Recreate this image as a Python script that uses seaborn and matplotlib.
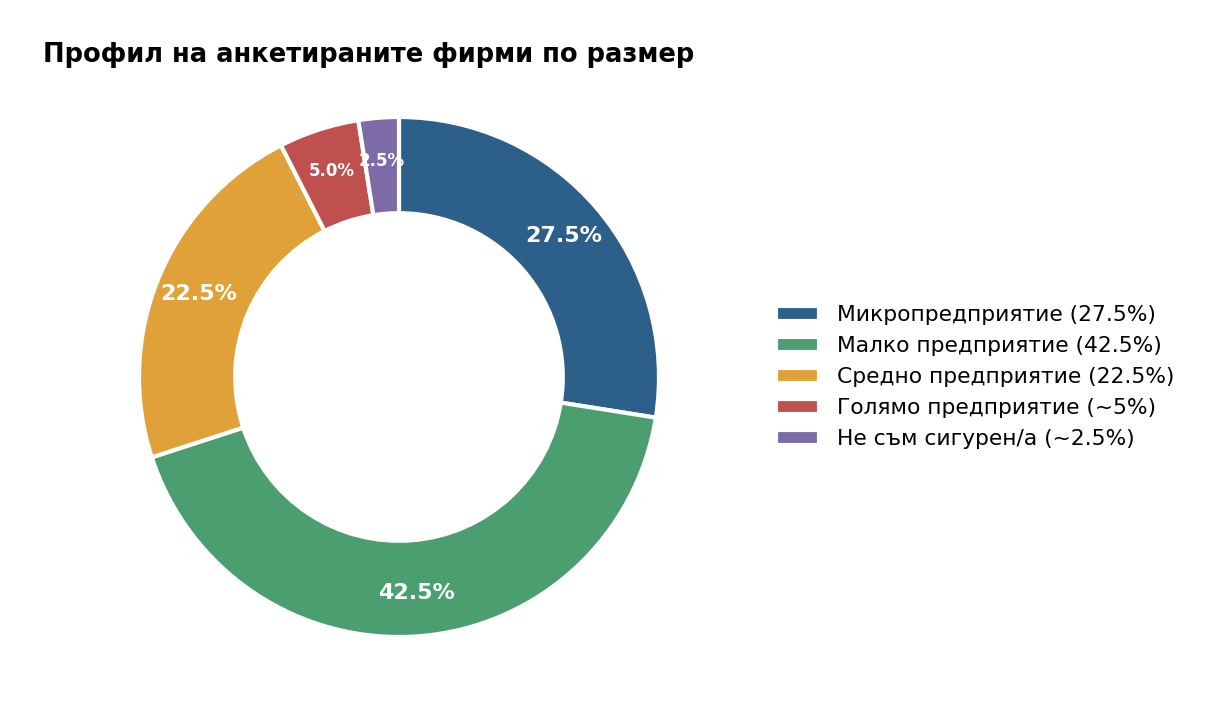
import matplotlib
matplotlib.use("Agg")
import matplotlib.pyplot as plt
import seaborn as sns

# данни
categories = ["Микропредприятие", "Малко предприятие", "Средно предприятие",
              "Голямо предприятие", "Не съм сигурен/а"]
shares = [27.5, 42.5, 22.5, 5.0, 2.5]
legend_labels = ["Микропредприятие (27.5%)", "Малко предприятие (42.5%)",
                 "Средно предприятие (22.5%)", "Голямо предприятие (~5%)",
                 "Не съм сигурен/а (~2.5%)"]
colors = ["#2c5f8a", "#4a9e6f", "#e0a238", "#c0504d", "#7d6ba8"]

sns.set_theme(style="white")
plt.rcParams['font.family'] = ['DejaVu Sans']
plt.rcParams['text.color'] = 'black'

fig = plt.figure(figsize=(12.25, 7.07), dpi=100)
ax = fig.add_axes([139/1225, 70/707, 520/1225, 520/707])

palette = sns.color_palette(colors)
wedges, texts, autotexts = ax.pie(
    shares, colors=palette, startangle=90, counterclock=False,
    autopct='%1.1f%%', pctdistance=0.835,
    wedgeprops=dict(width=0.37, edgecolor='white', linewidth=3, clip_on=False),
    textprops=dict(color='white', fontweight='bold', fontsize=16))
for t, v in zip(autotexts, shares):
    if v < 10:
        t.set_fontsize(12)
ax.set_xlim(-1, 1)
ax.set_ylim(-1, 1)
ax.set_aspect('equal')

fig.text(43/1225, 1 - 55/707, "Профил на анкетираните фирми по размер",
         fontsize=18.5, fontweight='bold', va='center', ha='left')

fig.legend(wedges, legend_labels, loc='center left',
           bbox_to_anchor=(756/1225, 1 - 377/707), frameon=False,
           fontsize=15.7, handlelength=2.0, handleheight=0.7, handletextpad=0.8)

fig.savefig("out.png", dpi=100)
